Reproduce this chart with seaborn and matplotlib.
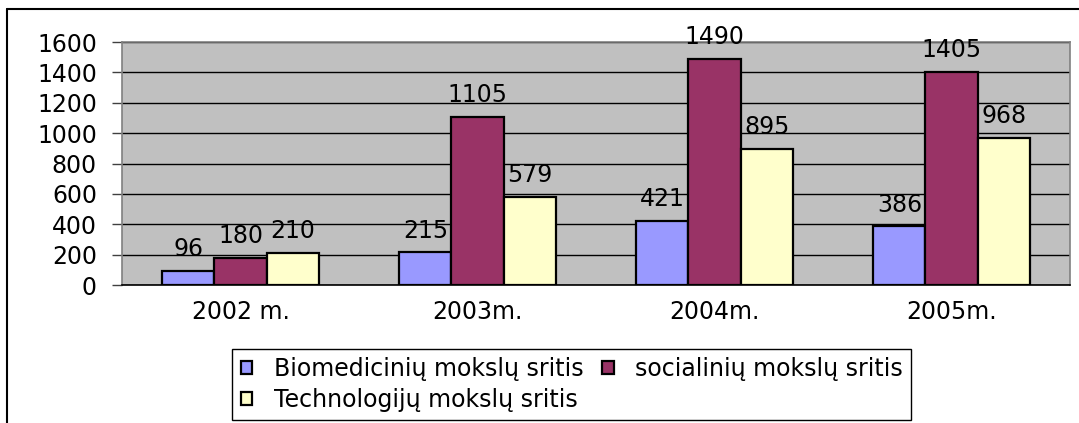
import pandas as pd
import numpy as np
import seaborn as sns
import matplotlib.pyplot as plt
from matplotlib.lines import Line2D

# chart data
years = ["2002 m.", "2003m.", "2004m.", "2005m."]
biomed = [96, 215, 421, 386]
social = [180, 1105, 1490, 1405]
tech = [210, 579, 895, 968]
series = ["Biomedicinių mokslų sritis", "socialinių mokslų sritis", "Technologijų mokslų sritis"]
colors = ["#9999FF", "#993366", "#FFFFCC"]
y_ticks = [0, 200, 400, 600, 800, 1000, 1200, 1400, 1600]

df = pd.DataFrame({
    "year": years * 3,
    "value": biomed + social + tech,
    "series": [series[0]] * 4 + [series[1]] * 4 + [series[2]] * 4,
})

sns.set_style("white")
plt.rcParams["font.family"] = ["DejaVu Sans"]
plt.rcParams["text.color"] = "black"
plt.rcParams["xtick.color"] = "black"
plt.rcParams["ytick.color"] = "black"
fs = 17

fig = plt.figure(figsize=(10.79, 4.23), dpi=100)
ax = fig.add_axes([0.113, 0.326, 0.8787, 0.5747])

sns.barplot(data=df, x="year", y="value", hue="series", palette=colors,
            width=0.66, gap=0, edgecolor="black", linewidth=1.6,
            saturation=1, errorbar=None, ax=ax, zorder=3)

ax.set_facecolor("#C0C0C0")
ax.set_ylim(0, 1600)
ax.set_xlim(-0.5, 3.5)
ax.set_yticks(y_ticks)
ax.set_yticklabels([str(t) for t in y_ticks], fontsize=fs, color="black")
ax.tick_params(axis="x", labelsize=fs, length=0, pad=11, labelcolor="black")
ax.set_xticks(np.arange(-0.5, 4, 1), minor=True)
ax.tick_params(axis="x", which="minor", length=5, color="#404040", width=1)
ax.tick_params(axis="y", length=7, color="#404040", width=1, pad=11, left=True)
ax.set_xlabel("")
ax.set_ylabel("")
ax.yaxis.grid(True, color="black", linewidth=1)
ax.set_axisbelow(True)
for s in ["top", "right", "left"]:
    ax.spines[s].set_color("#808080")
    ax.spines[s].set_linewidth(1.2)
ax.spines["bottom"].set_color("black")
ax.spines["bottom"].set_linewidth(1.2)

for c in ax.containers:
    ax.bar_label(c, fontsize=fs, padding=7, color="black")

# legend, row-major order
handles, labels = ax.get_legend_handles_labels()
order = [0, 2, 1]
leg = ax.legend([handles[i] for i in order], [labels[i] for i in order],
                ncol=2, loc="upper center", bbox_to_anchor=(0.530, 0.176),
                bbox_transform=fig.transFigure, fontsize=fs, frameon=True,
                fancybox=False, edgecolor="black", framealpha=1,
                handlelength=0.5, handleheight=0.5, handletextpad=0.9,
                columnspacing=0.8, labelspacing=0.3, borderpad=0.35,
                borderaxespad=0)
leg.get_frame().set_linewidth(1)
for t in leg.get_texts():
    t.set_color("black")

# outer chart frame
fig.add_artist(Line2D([7 / 1079, 1.0], [1 - 9 / 423, 1 - 9 / 423], color="black", linewidth=1.5))
fig.add_artist(Line2D([7 / 1079, 7 / 1079], [0, 1 - 9 / 423], color="black", linewidth=1.5))

fig.savefig("out.png", dpi=100)
